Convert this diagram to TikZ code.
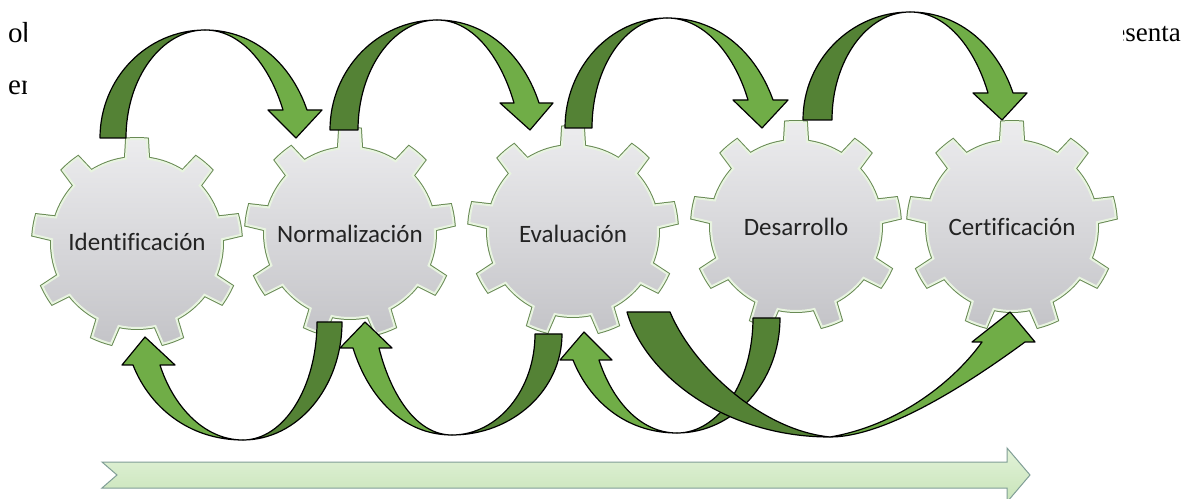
\documentclass[tikz,border=0pt]{standalone}
\usepackage{fontspec}
\setmainfont{Liberation Serif}
\newfontfamily\labelfont[Ligatures=NoCommon]{Carlito}
\definecolor{dkgreen}{RGB}{84,130,53}
\definecolor{ltgreen}{RGB}{112,173,71}
\definecolor{geartop}{RGB}{236,236,238}
\definecolor{gearbot}{RGB}{196,196,200}
\definecolor{geardark}{RGB}{104,138,84}
\definecolor{gearlight}{RGB}{232,244,224}
\definecolor{bartop}{RGB}{226,242,216}
\definecolor{barbot}{RGB}{200,228,185}
\definecolor{barline}{RGB}{128,158,150}
\definecolor{labtext}{RGB}{35,35,35}
\newcommand\mygearpath{(82.5:85) \foreach \a in {90,130,...,410} { -- (\a-5.5:104) arc[start angle=\a-5.5, end angle=\a+5.5, radius=104] -- (\a+7.5:85) arc[start angle=\a+7.5, end angle=\a+32.5, radius=85] } -- cycle}
\tikzset{
  gearshape/.pic={
    \path[draw=geardark, line width=4] \mygearpath;
    \path[top color=geartop, bottom color=gearbot, draw=gearlight, line width=2] \mygearpath;
  },
  lab/.style={font=\labelfont\fontsize{25}{30}\selectfont, text=labtext, anchor=base, inner sep=0},
  dk/.style={fill=dkgreen, draw=black, line width=1.2, line join=round},
  lt/.style={fill=ltgreen, draw=black, line width=1.2, line join=round},
  bar/.style={top color=bartop, bottom color=barbot, draw=barline, line width=1},
  pagetext/.style={font=\fontsize{27}{32}\selectfont, inner sep=0}
}
\begin{document}
\begin{tikzpicture}[x=1pt,y=1pt]
\useasboundingbox (0,0) rectangle (1185,498);
\clip (0,0) rectangle (1185,498);
\fill[white] (0,0) rectangle (1185,498);

% page text partly hidden behind the figure
\begin{scope}
  \clip (0,380) rectangle (26,498);
  \node[pagetext, font=\fontsize{29}{34}\selectfont, anchor=base west] (t1) at (8,455) {ob};
  \node[pagetext, font=\fontsize{29}{34}\selectfont, anchor=base west] (t2) at (8,403) {en};
\end{scope}
\begin{scope}
  \clip (1123,380) rectangle (1185,498);
  \node[pagetext, anchor=base east] (t3) at (1181,456) {presenta};
\end{scope}

% gears
\coordinate (c1) at (137,255);
\coordinate (c2) at (350,265);
\coordinate (c3) at (573,267);
\coordinate (c4) at (796,272);
\coordinate (c5) at (1012,272);
\pic at (c1) {gearshape};
\pic at (c2) {gearshape};
\pic at (c3) {gearshape};
\pic at (c4) {gearshape};
\pic at (c5) {gearshape};
\node[lab] (g1) at (137,247) {Identificación};
\node[lab] (g2) at (350,255) {Normalización};
\node[lab] (g3) at (573,255) {Evaluación};
\node[lab] (g4) at (796,262) {Desarrollo};
\node[lab] (g5) at (1012,262) {Certificación};

% top arrows
\path[dk] (100,360) arc[start angle=180,end angle=90,x radius=105,y radius=108] arc[start angle=90,end angle=180,x radius=79,y radius=108] -- cycle;
\path[lt] (205,468) .. controls (256,468) and (292,432) .. (307,388) -- (322,388) -- (296,360) -- (268,388) -- (283,388) .. controls (271,428) and (244,468) .. (205,468) -- cycle;

\path[dk] (330,368) arc[start angle=180,end angle=90,x radius=107,y radius=110] arc[start angle=90,end angle=180,x radius=79,y radius=110] -- cycle;
\path[lt] (437,478) .. controls (488,478) and (524,441) .. (539,395) -- (553,395) -- (530,368) -- (500,395) -- (514,395) .. controls (502,437) and (475,478) .. (437,478) -- cycle;

\path[dk] (565,370) arc[start angle=180,end angle=90,x radius=102,y radius=110] arc[start angle=90,end angle=180,x radius=75,y radius=110] -- cycle;
\path[lt] (667,480) .. controls (720,480) and (757,443) .. (773,398) -- (788,398) -- (762,370) -- (733,398) -- (748,398) .. controls (736,439) and (707,480) .. (667,480) -- cycle;

\path[dk] (803,378) arc[start angle=180,end angle=90,x radius=107,y radius=108] arc[start angle=90,end angle=180,x radius=78,y radius=108] -- cycle;
\path[lt] (910,486) .. controls (961,486) and (998,450) .. (1013,405) -- (1027,405) -- (1002,378) -- (973,405) -- (988,405) .. controls (976,446) and (949,486) .. (910,486) -- cycle;

% bottom arrows
\path[dk] (342,176) arc[start angle=0,end angle=-90,x radius=99,y radius=118] arc[start angle=-90,end angle=0,x radius=74,y radius=118] -- cycle;
\path[lt] (243,58) .. controls (188,58) and (149,92) .. (133,133) -- (122,133) -- (145,161) -- (175,133) -- (160,133) .. controls (172,95) and (202,58) .. (243,58) -- cycle;

\path[dk] (562,164) arc[start angle=0,end angle=-90,x radius=110,y radius=101] arc[start angle=-90,end angle=0,x radius=83,y radius=101] -- cycle;
\path[lt] (452,63) .. controls (402,63) and (368,102) .. (353,150) -- (340,150) -- (365,176) -- (392,150) -- (379,150) .. controls (390,106) and (415,63) .. (452,63) -- cycle;

\path[dk] (780,180) arc[start angle=0,end angle=-90,x radius=103,y radius=115] arc[start angle=-90,end angle=0,x radius=76,y radius=115] -- cycle;
\path[lt] (677,65) .. controls (625,65) and (589,98) .. (573,138) -- (560,138) -- (584,166) -- (612,138) -- (599,138) .. controls (611,101) and (638,65) .. (677,65) -- cycle;

\path[dk] (627,186) .. controls (645,123) and (725,61) .. (830,61) .. controls (760,68) and (692,133) .. (670,186) -- cycle;
\path[lt] (830,61) .. controls (890,61) and (980,123) .. (1025,156) -- (1035,156) -- (1010,186) -- (972,156) -- (982,156) .. controls (955,118) and (900,73) .. (830,61) -- cycle;

% progress bar arrow
\path[bar] (102,36) -- (1007,36) -- (1007,50) -- (1030,23) -- (1007,-4) -- (1007,10) -- (102,10) -- (117,23) -- cycle;
\end{tikzpicture}
\end{document}
